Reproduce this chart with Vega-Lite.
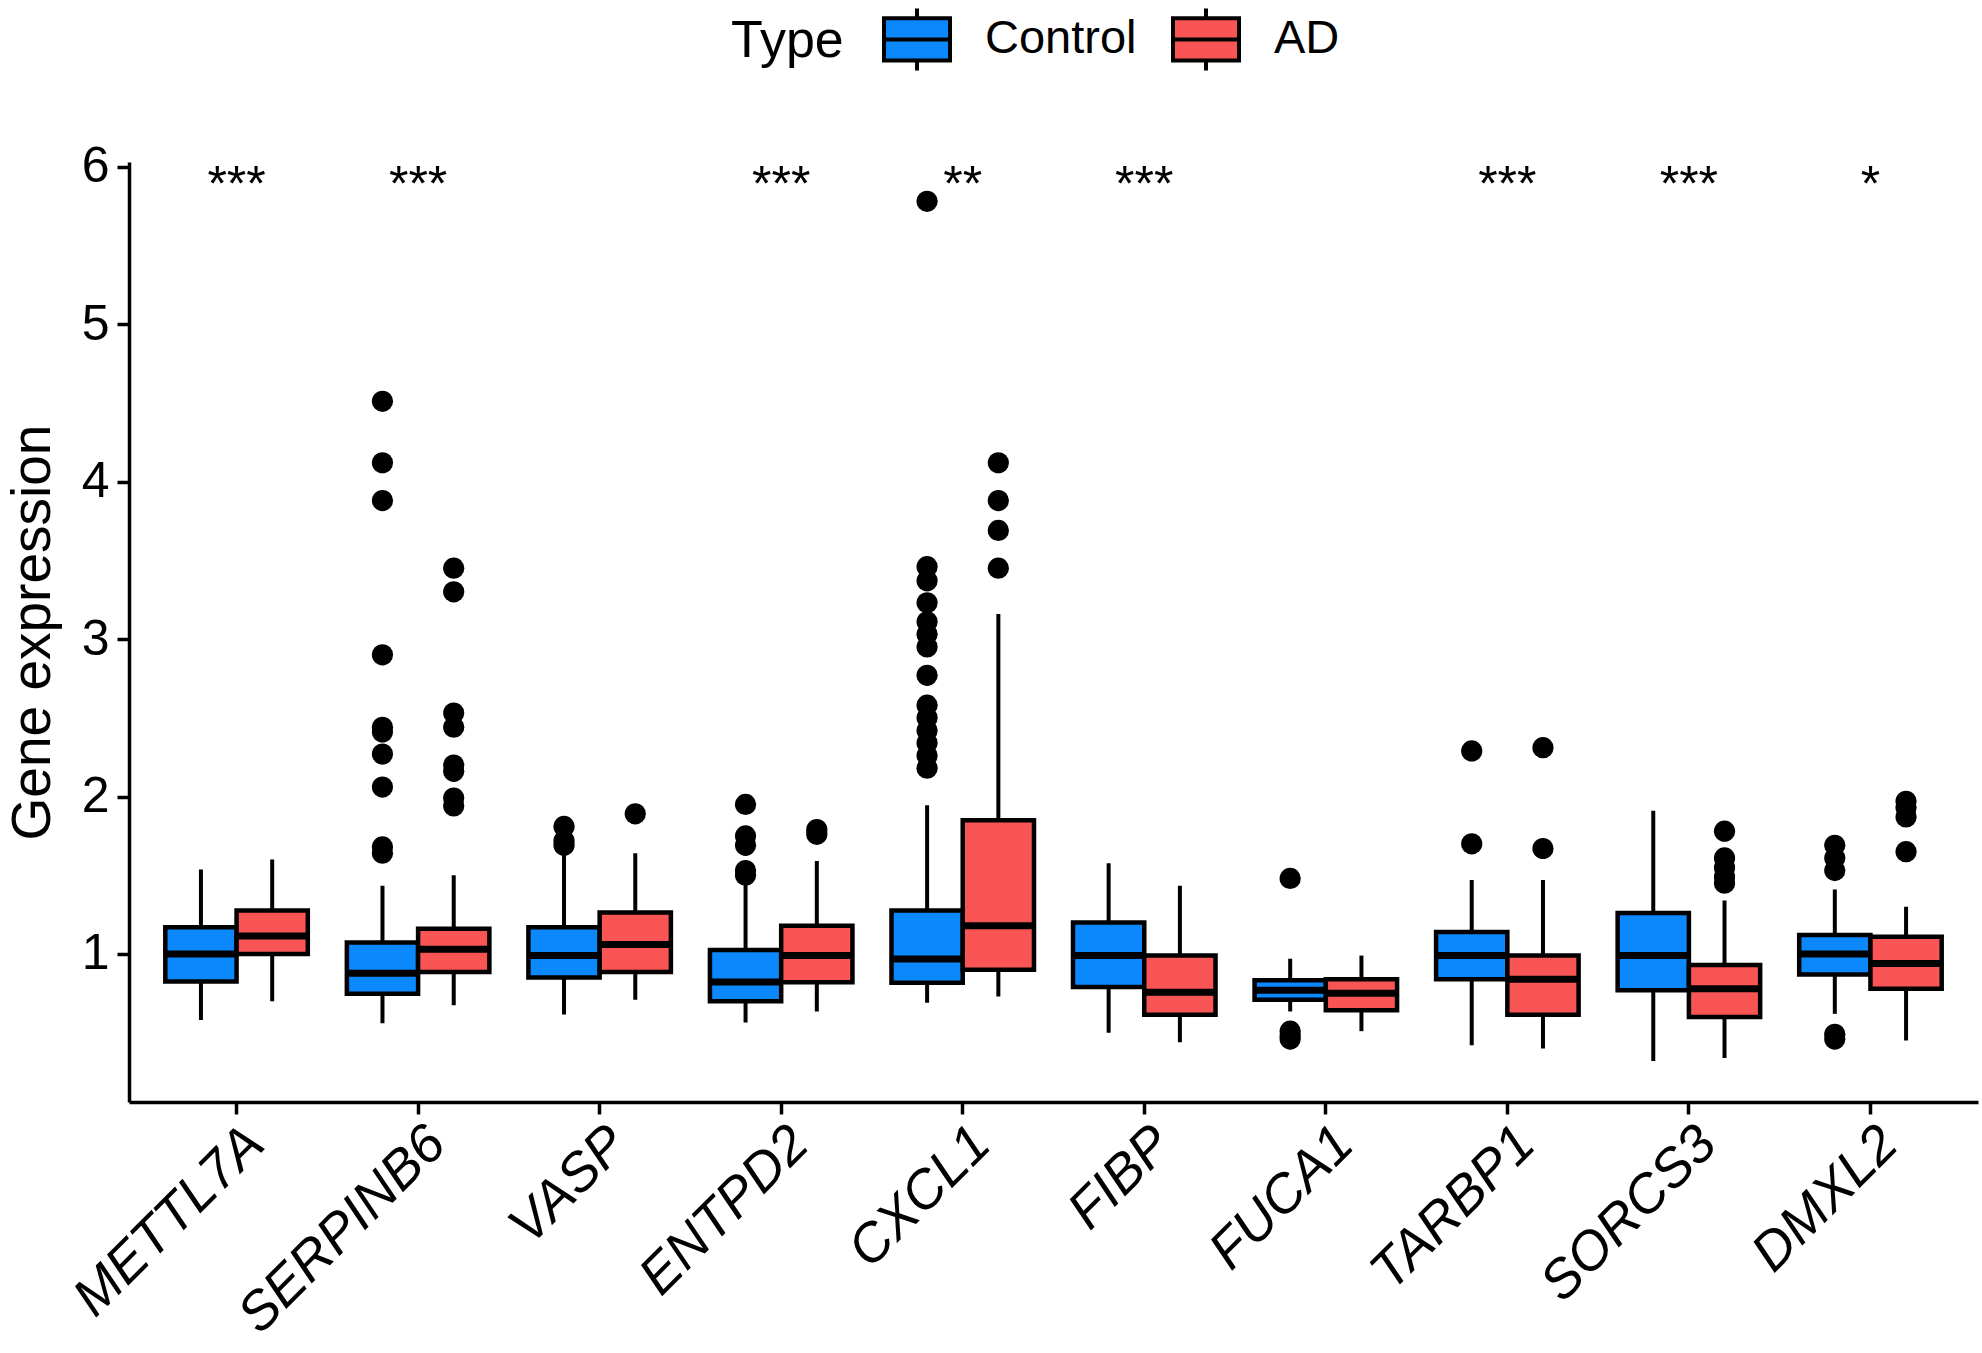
{
  "$schema": "https://vega.github.io/schema/vega-lite/v6.json",
  "autosize": {"type": "none"},
  "padding": {"left": 129, "top": 162, "right": 4, "bottom": 251},
  "width": 1849,
  "height": 940,
  "background": "white",
  "config": {
    "view": {"stroke": null},
    "font": "Liberation Sans",
    "axis": {"grid": false, "domainColor": "black", "domainWidth": 3.5, "tickColor": "black", "tickWidth": 3.5, "tickSize": 12, "labelColor": "black", "titleColor": "black", "titleFontWeight": "normal"}
  },
  "datasets": {
    "boxes": [
      {"gene": "METTL7A", "type": "Control", "lower": 0.58, "q1": 0.825, "median": 1.0, "q3": 1.17, "upper": 1.536},
      {"gene": "METTL7A", "type": "AD", "lower": 0.70, "q1": 1.0, "median": 1.114, "q3": 1.276, "upper": 1.60},
      {"gene": "SERPINB6", "type": "Control", "lower": 0.56, "q1": 0.748, "median": 0.878, "q3": 1.073, "upper": 1.434},
      {"gene": "SERPINB6", "type": "AD", "lower": 0.675, "q1": 0.886, "median": 1.03, "q3": 1.16, "upper": 1.50},
      {"gene": "VASP", "type": "Control", "lower": 0.615, "q1": 0.85, "median": 0.99, "q3": 1.17, "upper": 1.63},
      {"gene": "VASP", "type": "AD", "lower": 0.71, "q1": 0.886, "median": 1.06, "q3": 1.264, "upper": 1.64},
      {"gene": "ENTPD2", "type": "Control", "lower": 0.565, "q1": 0.70, "median": 0.822, "q3": 1.025, "upper": 1.45},
      {"gene": "ENTPD2", "type": "AD", "lower": 0.635, "q1": 0.82, "median": 0.99, "q3": 1.18, "upper": 1.59},
      {"gene": "CXCL1", "type": "Control", "lower": 0.69, "q1": 0.818, "median": 0.968, "q3": 1.276, "upper": 1.945},
      {"gene": "CXCL1", "type": "AD", "lower": 0.73, "q1": 0.90, "median": 1.18, "q3": 1.85, "upper": 3.16},
      {"gene": "FIBP", "type": "Control", "lower": 0.50, "q1": 0.79, "median": 0.99, "q3": 1.20, "upper": 1.576},
      {"gene": "FIBP", "type": "AD", "lower": 0.44, "q1": 0.614, "median": 0.757, "q3": 0.99, "upper": 1.434},
      {"gene": "FUCA1", "type": "Control", "lower": 0.635, "q1": 0.71, "median": 0.77, "q3": 0.834, "upper": 0.97},
      {"gene": "FUCA1", "type": "AD", "lower": 0.51, "q1": 0.643, "median": 0.75, "q3": 0.84, "upper": 0.99},
      {"gene": "TARBP1", "type": "Control", "lower": 0.42, "q1": 0.84, "median": 0.99, "q3": 1.14, "upper": 1.47},
      {"gene": "TARBP1", "type": "AD", "lower": 0.40, "q1": 0.614, "median": 0.84, "q3": 0.99, "upper": 1.47},
      {"gene": "SORCS3", "type": "Control", "lower": 0.32, "q1": 0.77, "median": 0.99, "q3": 1.26, "upper": 1.91},
      {"gene": "SORCS3", "type": "AD", "lower": 0.34, "q1": 0.60, "median": 0.78, "q3": 0.93, "upper": 1.34},
      {"gene": "DMXL2", "type": "Control", "lower": 0.62, "q1": 0.87, "median": 1.0, "q3": 1.12, "upper": 1.41},
      {"gene": "DMXL2", "type": "AD", "lower": 0.45, "q1": 0.78, "median": 0.94, "q3": 1.11, "upper": 1.30}
    ],
    "outliers": [
      {"gene": "SERPINB6", "type": "Control", "value": 4.51},
      {"gene": "SERPINB6", "type": "Control", "value": 4.12},
      {"gene": "SERPINB6", "type": "Control", "value": 3.88},
      {"gene": "SERPINB6", "type": "Control", "value": 2.90},
      {"gene": "SERPINB6", "type": "Control", "value": 2.44},
      {"gene": "SERPINB6", "type": "Control", "value": 2.41},
      {"gene": "SERPINB6", "type": "Control", "value": 2.27},
      {"gene": "SERPINB6", "type": "Control", "value": 2.06},
      {"gene": "SERPINB6", "type": "Control", "value": 1.68},
      {"gene": "SERPINB6", "type": "Control", "value": 1.64},
      {"gene": "SERPINB6", "type": "AD", "value": 3.45},
      {"gene": "SERPINB6", "type": "AD", "value": 3.30},
      {"gene": "SERPINB6", "type": "AD", "value": 2.53},
      {"gene": "SERPINB6", "type": "AD", "value": 2.44},
      {"gene": "SERPINB6", "type": "AD", "value": 2.20},
      {"gene": "SERPINB6", "type": "AD", "value": 2.16},
      {"gene": "SERPINB6", "type": "AD", "value": 1.99},
      {"gene": "SERPINB6", "type": "AD", "value": 1.94},
      {"gene": "VASP", "type": "Control", "value": 1.81},
      {"gene": "VASP", "type": "Control", "value": 1.72},
      {"gene": "VASP", "type": "Control", "value": 1.69},
      {"gene": "VASP", "type": "AD", "value": 1.89},
      {"gene": "ENTPD2", "type": "Control", "value": 1.95},
      {"gene": "ENTPD2", "type": "Control", "value": 1.75},
      {"gene": "ENTPD2", "type": "Control", "value": 1.69},
      {"gene": "ENTPD2", "type": "Control", "value": 1.53},
      {"gene": "ENTPD2", "type": "Control", "value": 1.50},
      {"gene": "ENTPD2", "type": "AD", "value": 1.79},
      {"gene": "ENTPD2", "type": "AD", "value": 1.76},
      {"gene": "CXCL1", "type": "Control", "value": 5.78},
      {"gene": "CXCL1", "type": "Control", "value": 3.46},
      {"gene": "CXCL1", "type": "Control", "value": 3.37},
      {"gene": "CXCL1", "type": "Control", "value": 3.23},
      {"gene": "CXCL1", "type": "Control", "value": 3.11},
      {"gene": "CXCL1", "type": "Control", "value": 3.03},
      {"gene": "CXCL1", "type": "Control", "value": 2.95},
      {"gene": "CXCL1", "type": "Control", "value": 2.77},
      {"gene": "CXCL1", "type": "Control", "value": 2.58},
      {"gene": "CXCL1", "type": "Control", "value": 2.50},
      {"gene": "CXCL1", "type": "Control", "value": 2.42},
      {"gene": "CXCL1", "type": "Control", "value": 2.34},
      {"gene": "CXCL1", "type": "Control", "value": 2.26},
      {"gene": "CXCL1", "type": "Control", "value": 2.18},
      {"gene": "CXCL1", "type": "AD", "value": 4.12},
      {"gene": "CXCL1", "type": "AD", "value": 3.88},
      {"gene": "CXCL1", "type": "AD", "value": 3.69},
      {"gene": "CXCL1", "type": "AD", "value": 3.45},
      {"gene": "FUCA1", "type": "Control", "value": 1.48},
      {"gene": "FUCA1", "type": "Control", "value": 0.51},
      {"gene": "FUCA1", "type": "Control", "value": 0.48},
      {"gene": "FUCA1", "type": "Control", "value": 0.46},
      {"gene": "TARBP1", "type": "Control", "value": 2.29},
      {"gene": "TARBP1", "type": "Control", "value": 1.70},
      {"gene": "TARBP1", "type": "AD", "value": 2.31},
      {"gene": "TARBP1", "type": "AD", "value": 1.67},
      {"gene": "SORCS3", "type": "AD", "value": 1.78},
      {"gene": "SORCS3", "type": "AD", "value": 1.61},
      {"gene": "SORCS3", "type": "AD", "value": 1.55},
      {"gene": "SORCS3", "type": "AD", "value": 1.49},
      {"gene": "SORCS3", "type": "AD", "value": 1.45},
      {"gene": "DMXL2", "type": "Control", "value": 1.69},
      {"gene": "DMXL2", "type": "Control", "value": 1.61},
      {"gene": "DMXL2", "type": "Control", "value": 1.53},
      {"gene": "DMXL2", "type": "Control", "value": 0.49},
      {"gene": "DMXL2", "type": "Control", "value": 0.46},
      {"gene": "DMXL2", "type": "AD", "value": 1.97},
      {"gene": "DMXL2", "type": "AD", "value": 1.93},
      {"gene": "DMXL2", "type": "AD", "value": 1.87},
      {"gene": "DMXL2", "type": "AD", "value": 1.65}
    ],
    "sig": [
      {"gene": "METTL7A", "label": "***"},
      {"gene": "SERPINB6", "label": "***"},
      {"gene": "VASP", "label": ""},
      {"gene": "ENTPD2", "label": "***"},
      {"gene": "CXCL1", "label": "**"},
      {"gene": "FIBP", "label": "***"},
      {"gene": "FUCA1", "label": ""},
      {"gene": "TARBP1", "label": "***"},
      {"gene": "SORCS3", "label": "***"},
      {"gene": "DMXL2", "label": "*"}
    ]
  },
  "encoding": {
    "x": {
      "field": "gene", "type": "nominal",
      "sort": ["METTL7A", "SERPINB6", "VASP", "ENTPD2", "CXCL1", "FIBP", "FUCA1", "TARBP1", "SORCS3", "DMXL2"],
      "scale": {"paddingInner": 0.215, "paddingOuter": 0.2},
      "axis": {"title": null, "labelAngle": -45, "labelAlign": "right", "labelBaseline": "top", "labelFontSize": 54, "labelFontStyle": "italic", "labelPadding": 2, "labelLimit": 0}
    }
  },
  "layer": [
    {
      "data": {"name": "boxes"},
      "mark": {"type": "rule", "stroke": "black", "strokeWidth": 4},
      "encoding": {
        "xOffset": {"field": "type", "type": "nominal", "sort": ["Control", "AD"], "scale": {"paddingInner": 0, "paddingOuter": 0}},
        "y": {"field": "lower", "type": "quantitative", "scale": {"domain": [0.06, 6.03], "nice": false, "zero": false},
              "axis": {"title": "Gene expression", "titleFontSize": 55, "titlePadding": 20, "labelFontSize": 50, "values": [1, 2, 3, 4, 5, 6], "format": "d", "labelPadding": 8}},
        "y2": {"field": "upper"}
      }
    },
    {
      "data": {"name": "boxes"},
      "mark": {"type": "bar", "stroke": "black", "strokeWidth": 4.5, "opacity": 1},
      "encoding": {
        "xOffset": {"field": "type", "type": "nominal", "sort": ["Control", "AD"]},
        "y": {"field": "q1", "type": "quantitative"},
        "y2": {"field": "q3"},
        "fill": {"field": "type", "type": "nominal", "sort": ["Control", "AD"],
                 "scale": {"domain": ["Control", "AD"], "range": ["#0A88FC", "#FA5555"]},
                 "legend": {"title": "Type", "orient": "none", "legendX": 602, "legendY": -158, "direction": "horizontal",
                            "titleOrient": "left", "titleFontSize": 52, "titleFontWeight": "normal", "titleColor": "black", "titlePadding": 38,
                            "titleBaseline": "middle",
                            "labelFontSize": 47, "labelColor": "black", "labelOffset": 33, "columnPadding": 28,
                            "symbolType": "M-1,-0.64H1V0.64H-1Z M-1,0H1 M0,-0.64V-0.94 M0,0.64V0.94",
                            "symbolSize": 4356, "symbolStrokeColor": "black", "symbolStrokeWidth": 4, "symbolOpacity": 1, "symbolFillOpacity": 1}}
      }
    },
    {
      "data": {"name": "boxes"},
      "mark": {"type": "tick", "color": "black", "orient": "horizontal", "size": 71, "thickness": 7, "opacity": 1},
      "encoding": {
        "xOffset": {"field": "type", "type": "nominal", "sort": ["Control", "AD"]},
        "y": {"field": "median", "type": "quantitative"}
      }
    },
    {
      "data": {"name": "outliers"},
      "mark": {"type": "point", "filled": true, "color": "black", "size": 450, "opacity": 1},
      "encoding": {
        "xOffset": {"field": "type", "type": "nominal", "sort": ["Control", "AD"]},
        "y": {"field": "value", "type": "quantitative"}
      }
    },
    {
      "data": {"name": "sig"},
      "mark": {"type": "text", "fontSize": 50, "color": "black", "baseline": "middle", "align": "center"},
      "encoding": {
        "y": {"datum": 5.88},
        "text": {"field": "label"}
      }
    }
  ]
}
